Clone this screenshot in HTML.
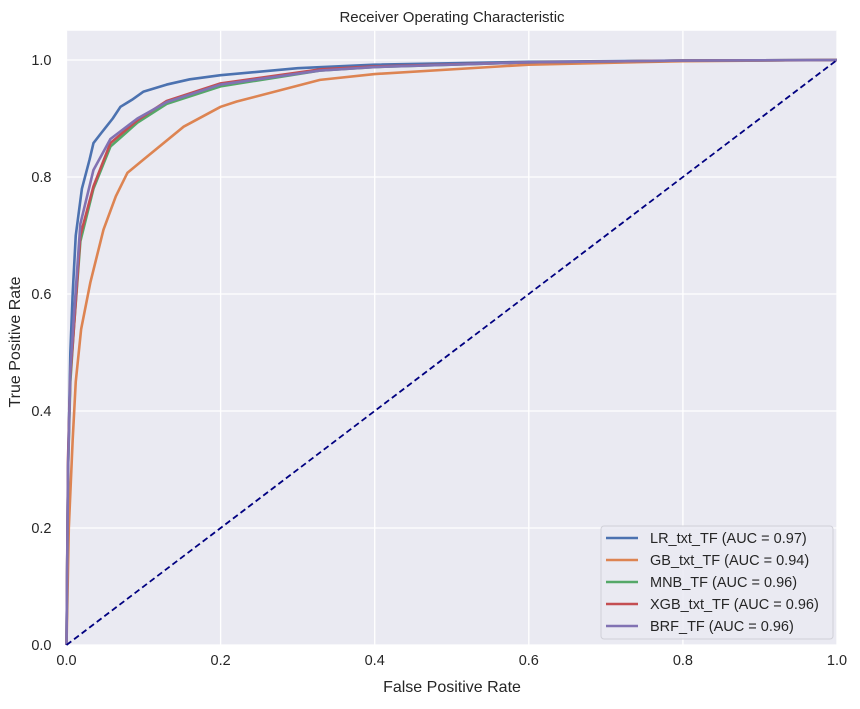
<!DOCTYPE html>
<html><head><meta charset="utf-8"><style>
body{margin:0;background:#fff;font-family:"Liberation Sans","DejaVu Sans",sans-serif;}
svg text{font-family:"Liberation Sans","DejaVu Sans",sans-serif;fill:#262626;}
</style></head><body>
<svg id="chart" width="860" height="704" xmlns="http://www.w3.org/2000/svg">
<rect x="0" y="0" width="860" height="704" fill="#fff"/>
<rect id="plotbg" fill="#eaeaf2"/>
<g id="grid"></g><g id="ticks"></g><g id="series"></g>
<text x="452" y="22" font-size="15" text-anchor="middle">Receiver Operating Characteristic</text>
<text x="452" y="692" font-size="16" text-anchor="middle">False Positive Rate</text>
<text x="20" y="342" font-size="16" text-anchor="middle" transform="rotate(-90 20 342)">True Positive Rate</text>
<g id="legend"></g>
</svg>
<script>
const xTicks=[0,0.2,0.4,0.6,0.8,1.0];
const yTicks=[0,0.2,0.4,0.6,0.8,1.0];
const seriesNames=["LR_txt_TF (AUC = 0.97)","GB_txt_TF (AUC = 0.94)","MNB_TF (AUC = 0.96)","XGB_txt_TF (AUC = 0.96)","BRF_TF (AUC = 0.96)"];
const colors=["#4c72b0","#dd8452","#55a868","#c44e52","#8172b3"];
const lrFpr=[0,0.002,0.005,0.008,0.012,0.02,0.03,0.035,0.045,0.06,0.07,0.085,0.1,0.13,0.16,0.2,0.3,0.4,0.6,0.8,1];
const lrTpr=[0,0.3,0.5,0.6,0.7,0.78,0.83,0.858,0.875,0.9,0.92,0.932,0.946,0.958,0.967,0.974,0.986,0.992,0.997,0.999,1];
const gbFpr=[0,0.003,0.008,0.012,0.019,0.031,0.048,0.064,0.079,0.1,0.152,0.2,0.221,0.329,0.4,0.6,0.8,1];
const gbTpr=[0,0.2,0.35,0.45,0.54,0.62,0.71,0.767,0.807,0.83,0.886,0.92,0.929,0.966,0.976,0.992,0.998,1];
const mnbFpr=[0,0.002,0.005,0.0095,0.018,0.035,0.057,0.092,0.13,0.2,0.329,0.4,0.6,0.8,1];
const mnbTpr=[0,0.3,0.45,0.54,0.69,0.78,0.852,0.893,0.925,0.955,0.982,0.988,0.996,0.999,1];
const xgbFpr=[0,0.002,0.005,0.0095,0.018,0.035,0.057,0.092,0.13,0.2,0.329,0.4,0.6,0.8,1];
const xgbTpr=[0,0.32,0.46,0.54,0.70,0.784,0.858,0.897,0.93,0.96,0.984,0.989,0.996,0.999,1];
const brfFpr=[0,0.002,0.005,0.0095,0.018,0.035,0.057,0.092,0.13,0.2,0.329,0.4,0.6,0.8,1];
const brfTpr=[0,0.3,0.47,0.56,0.72,0.812,0.865,0.9,0.928,0.958,0.982,0.988,0.996,0.999,1];
const seriesX=[lrFpr,gbFpr,mnbFpr,xgbFpr,brfFpr];
const seriesY=[lrTpr,gbTpr,mnbTpr,xgbTpr,brfTpr];
const L=66.5,R=837,B=645,T=30.75,xmax=1,ymax=1.05;
const sx=v=>L+v/xmax*(R-L);
const sy=v=>B-v/ymax*(B-T);
const NS="http://www.w3.org/2000/svg";
function mk(tag,attrs,parent){const e=document.createElementNS(NS,tag);for(const k in attrs)e.setAttribute(k,attrs[k]);parent.appendChild(e);return e;}
const bg=document.getElementById('plotbg');
bg.setAttribute('x',L);bg.setAttribute('y',T);bg.setAttribute('width',R-L);bg.setAttribute('height',B-T);
const grid=document.getElementById('grid'),ticks=document.getElementById('ticks');
xTicks.forEach(v=>{
 const l=mk('line',{x1:sx(v),x2:sx(v),y1:T,y2:B,stroke:'#fff','stroke-width':1.3},grid);
 
 
 const t=mk('text',{x:sx(v),y:B+20,'font-size':14.5,'text-anchor':'middle'},ticks);
 t.textContent=v.toFixed(1);
 
 
});
yTicks.forEach(v=>{
 const l=mk('line',{x1:L,x2:R,y1:sy(v),y2:sy(v),stroke:'#fff','stroke-width':1.3},grid);
 
 
 const t=mk('text',{x:L-15,y:sy(v)+5,'font-size':14.5,'text-anchor':'end'},ticks);
 t.textContent=v.toFixed(1);
 
 
});
const sg=document.getElementById('series');
seriesX.forEach((xs,i)=>{
 const d=xs.map((x,j)=>(j?'L':'M')+sx(x).toFixed(2)+','+sy(seriesY[i][j]).toFixed(2)).join(' ');
 const p=mk('path',{d:d,fill:'none',stroke:colors[i],'stroke-width':2.6,'stroke-linejoin':'round'},sg);
 
 
});
const diag=mk('line',{x1:sx(0),y1:sy(0),x2:sx(1),y2:sy(1),stroke:'#000080','stroke-width':1.8,'stroke-dasharray':'6,3.5'},sg);


const lg=document.getElementById('legend');
mk('rect',{x:601,y:526,width:232,height:113,rx:3,fill:'#eaeaf2','fill-opacity':0.85,stroke:'#d0d0d8'},lg);
seriesNames.forEach((n,i)=>{
 const y=538+i*22;
 const l=mk('line',{x1:606,x2:638,y1:y,y2:y,stroke:colors[i],'stroke-width':2.6},lg);
 
 
 const t=mk('text',{x:650,y:y+5,'font-size':14.5},lg);
 t.textContent=n;
 
 
});
</script>
</body></html>
